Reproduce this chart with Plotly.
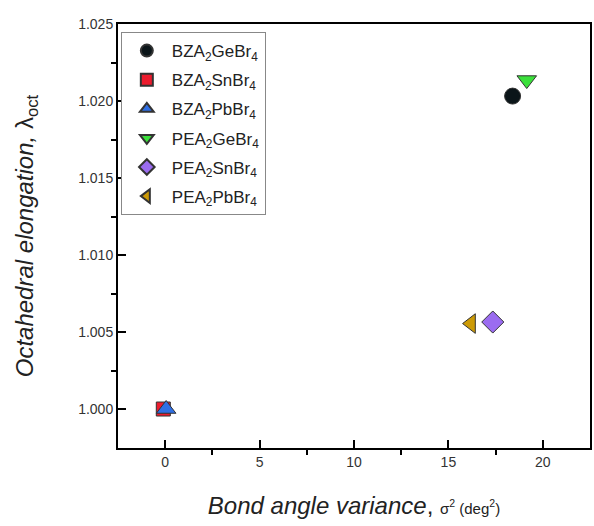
import plotly.graph_objects as go

names = ["BZA<sub>2</sub>GeBr<sub>4</sub>", "BZA<sub>2</sub>SnBr<sub>4</sub>", "BZA<sub>2</sub>PbBr<sub>4</sub>",
         "PEA<sub>2</sub>GeBr<sub>4</sub>", "PEA<sub>2</sub>SnBr<sub>4</sub>", "PEA<sub>2</sub>PbBr<sub>4</sub>"]
bond_angle_variance = [18.4, -0.1, 0.05, 19.15, 17.35, 16.2]
octahedral_elongation = [1.02032, 1.0000, 1.0000, 1.02136, 1.00565, 1.00555]
symbols = ["circle", "square", "triangle-up", "triangle-down", "diamond", "triangle-left"]
colors = ["#0b1519", "#ec1c2e", "#2f6fe4", "#3be03b", "#9b6cf0", "#cc9a06"]
sizes = [16, 14, 17, 17, 17, 17]

fig = go.Figure()
for i in range(len(names)):
    fig.add_trace(go.Scatter(
        x=[bond_angle_variance[i]], y=[octahedral_elongation[i]],
        mode="markers", name=names[i], legendgroup=f"g{i}",
        marker=dict(symbol=symbols[i], color=colors[i], size=sizes[i],
                    line=dict(color="#333333", width=1)),
    ))

font_family = "Liberation Sans, Arial, sans-serif"
fig.update_layout(
    width=594, height=526,
    margin=dict(l=118, r=2, t=24, b=78),
    paper_bgcolor="white", plot_bgcolor="white",
    font=dict(family=font_family, color="#222222"),
    showlegend=True,
    legend=dict(x=0.006, y=0.981, xanchor="left", yanchor="top",
                bordercolor="#888888", borderwidth=1, bgcolor="white",
                font=dict(size=17, color="#222222"), tracegroupgap=4,
                itemsizing="constant", itemwidth=40),
    xaxis=dict(range=[-2.5, 22.5], tickvals=[0, 5, 10, 15, 20],
               ticks="inside", ticklen=8, tickwidth=2, tickcolor="black",
               minor=dict(tickvals=[2.5, 7.5, 12.5, 17.5], ticks="outside", ticklen=5, tickwidth=2, tickcolor="black"),
               showline=True, linecolor="black", linewidth=2, mirror=True,
               showgrid=False, zeroline=False,
               tickfont=dict(size=14, color="#333333"),
               title=dict(text="<i>Bond angle variance</i>, <span style='font-size:15px'>σ<sup>2</sup> (deg<sup>2</sup>)</span>",
                          font=dict(size=24, color="#222222"), standoff=28)),
    yaxis=dict(range=[0.99747, 1.025], tickvals=[1.000, 1.005, 1.010, 1.015, 1.020, 1.025],
               ticktext=["1.000", "1.005", "1.010", "1.015", "1.020", "1.025"],
               ticks="inside", ticklen=8, tickwidth=2, tickcolor="black",
               minor=dict(tickvals=[1.0025, 1.0075, 1.0125, 1.0175, 1.0225], ticks="outside", ticklen=5, tickwidth=2, tickcolor="black"),
               showline=True, linecolor="black", linewidth=2, mirror=True,
               showgrid=False, zeroline=False,
               tickfont=dict(size=14, color="#333333"),
               title=dict(text="<i>Octahedral elongation, </i>λ<sub>oct</sub>",
                          font=dict(size=24, color="#222222"), standoff=38)),
)

fig.write_html("out.html")
